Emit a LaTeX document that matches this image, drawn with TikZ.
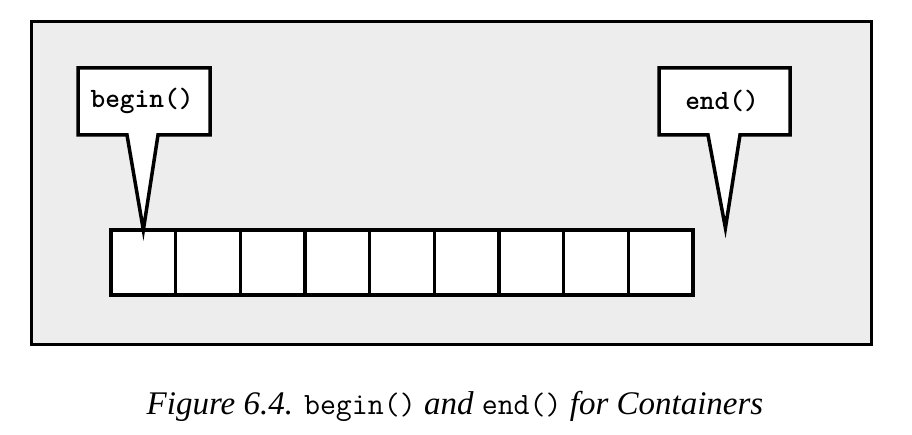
\documentclass[tikz,border=0pt]{standalone}
\usepackage{fontspec}
\setmainfont{Liberation Serif}
\usetikzlibrary{calc}
\newcommand{\capmono}[1]{{\upshape\ttfamily\fontsize{31}{33}\selectfont #1}}
\begin{document}
\begin{tikzpicture}[x=1pt,y=-1pt,
  frame/.style={draw=black,line width=3pt,fill=black!7},
  cell/.style={draw=black,line width=3.5pt,fill=white,minimum width=64.7pt,minimum height=65pt,inner sep=0pt,outer sep=0pt,anchor=north west},
  callout/.style={draw=black,line width=3.5pt,fill=white,line join=miter},
  label/.style={font=\fontsize{28}{30}\selectfont\ttfamily\bfseries,inner sep=0pt},
  caption/.style={font=\fontsize{33}{36}\selectfont\itshape,inner sep=0pt}]
\useasboundingbox (0,0) rectangle (912,435);
\fill[white] (0,0) rectangle (912,435);
\node[frame,minimum width=840pt,minimum height=323pt,anchor=north west,inner sep=0pt] (frame) at (30,20) {};
% cells
\foreach \i in {1,...,9}{
  \node[cell] (c\i) at ({111+(\i-1)*64.67},230) {};
}
\draw[line width=3.5pt,rounded corners=2pt] (c1.north west) rectangle (c9.south east);
\coordinate (past) at ($(c9.north)+(64.7,-2)$);
% begin callout
\draw[callout] (78,68) -- (210,68) -- (210,135) -- (158,135) -- (c1.north) -- (127,135) -- (78,135) -- cycle;
\node[label] (lbegin) at (142,101) {begin()};
% end callout
\draw[callout] (659,68) -- (790,68) -- (790,135) -- (740,135) -- (past) -- (708,135) -- (659,135) -- cycle;
\node[label] (lend) at (722,101) {end()};
% caption
\node[caption,anchor=base] (cap) at (455,414) {Figure 6.4. \capmono{begin()} and \capmono{end()} for Containers};
\end{tikzpicture}
\end{document}
